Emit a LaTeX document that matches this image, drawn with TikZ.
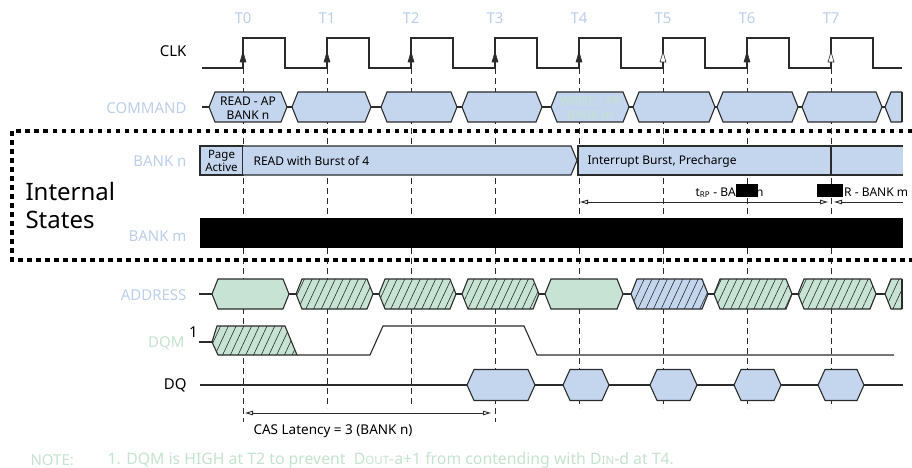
\documentclass[tikz,border=0pt]{standalone}
\usepackage{fontspec}
\setmainfont{Noto Sans}
\usetikzlibrary{calc,arrows.meta,patterns.meta}
\definecolor{LBlue}{HTML}{C4D6EE}
\definecolor{LGreen}{HTML}{C7E3D3}
\definecolor{TBlue}{HTML}{BBCFEA}
\definecolor{TGreen}{HTML}{C4E3CF}
\definecolor{DGray}{HTML}{2B2B2B}
\tikzset{
    wave/.style={DGray, line width=1.1pt},
    tick/.style={DGray, line width=0.8pt, dash pattern=on 6pt off 4pt},
    hatched/.style={pattern={Lines[angle=65,distance=7pt,line width=0.6pt]}, pattern color=DGray},
    signame/.style={anchor=east, font=\fontsize{15}{17}\selectfont},
    boxtext/.style={font=\fontsize{12}{14}\selectfont},
    span/.style={DGray, line width=0.9pt, {Triangle[open,length=8pt,width=4.5pt]}-{Triangle[open,length=8pt,width=4.5pt]}},
}
\NewDocumentCommand{\BusBox}{O{LBlue} m m m O{}}{
    \draw[wave, preaction={fill=#1}, #5] (#2,#4) -- ({#2+6},{#4-15}) -- ({#3-6},{#4-15}) -- (#3,#4)
        -- ({#3-6},{#4+15}) -- ({#2+6},{#4+15}) -- cycle;
}
\NewDocumentCommand{\BusEnd}{O{LBlue} m O{}}{
    \draw[wave, preaction={fill=#1}, #3] (902,{#2-15}) -- (891,{#2-15}) -- (885,#2) -- (891,{#2+15}) -- (902,{#2+15});
    \draw[DGray, line width=2pt] (902,{#2-15}) -- (902,{#2+15});
}
\NewDocumentCommand{\DataBox}{m m}{
    \draw[wave, fill=LBlue] (#1,385) -- ({#1+7},369.5) -- ({#2-7},369.5) -- (#2,385)
        -- ({#2-7},400.5) -- ({#1+7},400.5) -- cycle;
}

\begin{document}
\begin{tikzpicture}[x=1pt, y=-1pt]
\useasboundingbox (0,0) rectangle (912,468);

\foreach \i in {0,...,7} {
    \coordinate (T\i) at ({243+84*\i},68);
    \node[text=TBlue, font=\fontsize{15}{17}\selectfont] (edge-\i) at ({243+84*\i},18) {T\i};
}
\foreach \i in {1,2,4,5,6,7} \draw[tick] (T\i) -- ++(0,340);
\foreach \i in {0,3} \draw[tick] (T\i) -- ++(0,354);

\node[signame] (clk) at (190,51) {CLK};
\node[signame, text=TBlue] (command) at (190,108) {COMMAND};
\node[signame, text=TBlue] (bank-n) at (190,161) {BANK n};
\node[signame, text=TBlue] (bank-m) at (190,236) {BANK m};
\node[signame, text=TBlue] (address) at (190,295) {ADDRESS};
\node[signame, text=TGreen] (dqm) at (188,343) {DQM};
\node[anchor=base west, font=\fontsize{15}{17}\selectfont, inner sep=0pt] (dqm-note) at (189,337) {1};
\node[signame] (dq) at (190,385) {DQ};

\draw[wave] (202,68) \foreach \i in {0,...,7} { -- (T\i) -- ++(0,-30) -- ++(42,0) -- ++(0,30) } -- (902,68);
\foreach \i/\f in {0/DGray,1/DGray,2/DGray,3/DGray,4/DGray,5/white,6/DGray,7/white}
    \draw[DGray, fill=\f, line width=0.6pt] ($(T\i)+(0,-16)$) -- ++(-3,10) -- ++(6,0) -- cycle;

\draw[wave] (202,107) -- (902,107);
\foreach \a/\b in {209/287,292/371,381/457,462/542,551/629,633/715,717/798,802/882}
    {\BusBox{\a}{\b}{107}}
\BusEnd{107}
\node[boxtext, align=center] (cmd-read) at (248,108) {READ - AP\\BANK n};
\node[boxtext, align=center, text=TGreen] (cmd-write) at (590,108) {WRITE - AP\\BANK m};

\draw[line width=4pt, dash pattern=on 4.5pt off 4.5pt] (912,131) -- (12,131) -- (12,260) -- (912,260);
\node[anchor=west, align=left, font=\fontsize{24}{28}\selectfont] (internal) at (22,205) {Internal\\States};

\draw[wave, fill=LBlue] (200,146) rectangle (243,175);
\node[align=center, font=\fontsize{11.5}{13}\selectfont, inner sep=0pt] (page) at (221.5,161) {Page\\Active};
\draw[wave, fill=LBlue] (243,146) -- (571,146) -- (577,160.5) -- (571,175) -- (243,175);
\node[boxtext, anchor=west] (burst) at (250,161) {READ with Burst of 4};
\draw[wave, fill=LBlue] (578,146) rectangle (831,175);
\node[boxtext, anchor=west] (precharge) at (584,161) {Interrupt Burst, Precharge};
\fill[LBlue] (831,146) rectangle (903,175);
\draw[wave] (831,146) -- (903,146) (831,175) -- (903,175);
\draw[DGray, line width=1.8pt] (831,146) -- (831,175);

\node[boxtext, anchor=base east, inner sep=0pt] (trp-n) at (736,196) {t\textsubscript{RP} - BA};
\node[boxtext, anchor=base west, inner sep=0pt] (trp-n-end) at (756,196) {n};
\fill[black] (736,184) rectangle (758,197);
\fill[black] (817,184) rectangle (843,197);
\node[boxtext, anchor=base west, inner sep=0pt] (twr-m) at (844,196) {R - BANK m};
\coordinate (trp-a) at (580,202);
\coordinate (trp-b) at (828,202);
\coordinate (twr-a) at (834,202);
\coordinate (twr-b) at (903,202);
\draw[span] (trp-a) -- (trp-b);
\draw[DGray, line width=0.9pt, {Triangle[open,length=8pt,width=4.5pt]}-] (twr-a) -- (twr-b);

\fill[black] (200,218) rectangle (903,248);

\draw[wave] (199,294) -- (902,294);
\BusBox[LGreen]{212}{289}{294}
\foreach \a/\b in {296/373,379/456,462/539,714/792,798/876}
    {\BusBox[LGreen]{\a}{\b}{294}[hatched]}
\BusBox[LGreen]{545}{623}{294}
\BusBox[LBlue]{631}{708}{294}[hatched]
\BusEnd[LGreen]{294}[hatched]

\draw[wave] (199,342) -- (212,342);
\draw[wave, preaction={fill=LGreen}, hatched] (212,342) -- (217,326) -- (285,326) -- (297,355) -- (218,355) -- cycle;
\draw[wave] (297,355) -- (370,355) -- (383,326) -- (524,326) -- (537,355) -- (894,355);

\draw[wave] (200,385) -- (903,385);
\foreach \a/\b in {467/535,563/609,650/697,734/781,818/864}
    {\DataBox{\a}{\b}}

\coordinate (cas-a) at (245,413);
\coordinate (cas-b) at (491,413);
\draw[span] (cas-a) -- (cas-b);
\node[anchor=west, font=\fontsize{13.5}{15}\selectfont] (cas) at (250,431) {CAS Latency = 3 (BANK n)};

\node[anchor=west, text=TGreen, font=\fontsize{15}{17}\selectfont] (note) at (27,460) {NOTE:};
\node[anchor=west, text=TGreen, font=\fontsize{15.8}{18}\selectfont] (note-text) at (104,460)
    {1. DQM is HIGH at T2 to prevent\ \ D{\fontsize{11.5}{13}\selectfont OUT}-a+1 from contending with D{\fontsize{11.5}{13}\selectfont IN}-d at T4.};
\end{tikzpicture}
\end{document}
